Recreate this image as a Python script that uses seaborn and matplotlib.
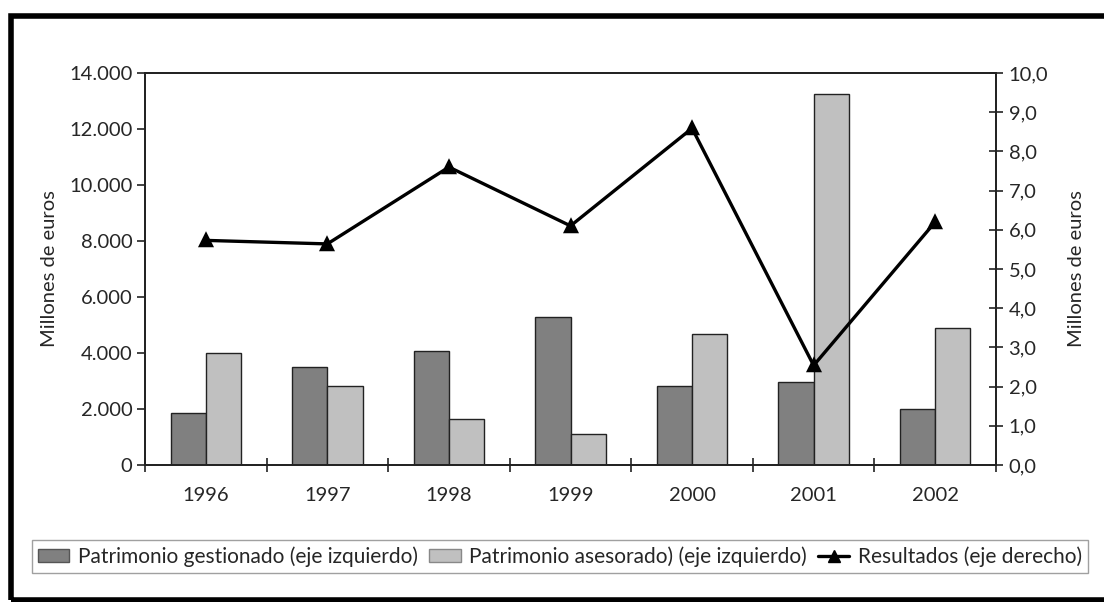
import numpy as np
import pandas as pd
import matplotlib
matplotlib.use("Agg")
import matplotlib.pyplot as plt
import matplotlib.ticker as mticker
from matplotlib.patches import Rectangle, Patch
from matplotlib.lines import Line2D
import seaborn as sns

# Data (millions of euros)
years = ["1996", "1997", "1998", "1999", "2000", "2001", "2002"]
gestionado = [1860, 3510, 4060, 5270, 2810, 2960, 1990]
asesorado = [3990, 2810, 1650, 1100, 4680, 13260, 4890]
resultados = [5.73, 5.64, 7.60, 6.10, 8.59, 2.54, 6.20]

serie_gest = "Patrimonio gestionado (eje izquierdo)"
serie_ases = "Patrimonio asesorado) (eje izquierdo)"
serie_res = "Resultados (eje derecho)"

sns.set_theme(style="white")
plt.rcParams["font.family"] = ["Lato", "DejaVu Sans"]

FS = 14.5
DARK = "#808080"
LIGHT = "#c0c0c0"
EDGE = "#222222"

df = pd.DataFrame({
    "year": years * 2,
    "value": gestionado + asesorado,
    "serie": [serie_gest] * len(years) + [serie_ases] * len(years),
})

fig = plt.figure(figsize=(11.04, 6.02), dpi=100)
ax = fig.add_axes([145 / 1104, 1 - 465 / 602, (996 - 145) / 1104, (465 - 73) / 602])

sns.barplot(data=df, x="year", y="value", hue="serie", order=years,
            hue_order=[serie_gest, serie_ases], palette=[DARK, LIGHT],
            width=0.58, edgecolor=EDGE, linewidth=1.0, saturation=1,
            legend=False, ax=ax)

ax.set_xlim(-0.5, len(years) - 0.5)
ax.set_ylim(0, 14000)
ax.set_yticks(np.arange(0, 14001, 2000))
ax.yaxis.set_major_formatter(mticker.FuncFormatter(
    lambda v, p: f"{int(v):,}".replace(",", ".")))
ax.set_xlabel("")
ax.set_ylabel("Millones de euros", fontsize=FS, labelpad=8)

# Category labels at centres, tick marks between categories
ax.set_xticks(range(len(years)))
ax.set_xticklabels(years, fontsize=FS)
ax.set_xticks(np.arange(-0.5, len(years), 1.0), minor=True)
ax.tick_params(axis="x", which="major", length=0, pad=16)
ax.tick_params(axis="x", which="minor", direction="inout", length=10,
               width=1.2, color=EDGE, bottom=True)
ax.tick_params(axis="y", which="major", direction="out", length=6,
               width=1.2, color=EDGE, labelsize=FS, pad=3, left=True)

for s in ax.spines.values():
    s.set_color(EDGE)
    s.set_linewidth(1.3)

# Results on the secondary axis
ax2 = ax.twinx()
sns.pointplot(x=years, y=resultados, order=years, color="black",
              markers="^", linestyles="-", linewidth=2.4, markersize=9,
              errorbar=None, ax=ax2)
ax2.set_xlim(-0.5, len(years) - 0.5)
ax2.set_ylim(0, 10)
ax2.set_yticks(np.arange(0, 10.01, 1.0))
ax2.yaxis.set_major_formatter(mticker.FuncFormatter(
    lambda v, p: f"{v:.1f}".replace(".", ",")))
ax2.tick_params(axis="y", which="major", direction="inout", length=10,
                width=1.2, color=EDGE, labelsize=FS, pad=4, right=True)
ax2.set_ylabel("Millones de euros", fontsize=FS, labelpad=14)
ax2.grid(False)
ax.grid(False)
for s in ax2.spines.values():
    s.set_color(EDGE)
    s.set_linewidth(1.3)

# Legend in a single row below the plot
handles = [
    Patch(facecolor=DARK, edgecolor="#555555", linewidth=1.0),
    Patch(facecolor=LIGHT, edgecolor="#888888", linewidth=1.0),
    Line2D([0], [0], color="black", linewidth=2.4, marker="^", markersize=8),
]
leg = fig.legend(handles, [serie_gest, serie_ases, serie_res],
                 loc="center", bbox_to_anchor=(560 / 1104, 1 - 556.5 / 602),
                 ncol=3, fontsize=15, frameon=True, fancybox=False,
                 borderpad=0.3, handlelength=1.5, handleheight=0.6,
                 handletextpad=0.4, columnspacing=0.55, borderaxespad=0)
leg.get_frame().set_edgecolor("#888888")
leg.get_frame().set_linewidth(1.0)

# Heavy outer frame
fig.patches.append(Rectangle((10.5 / 1104, 1 - 599.5 / 602), 1.2, (599.5 - 15.5) / 602,
                             transform=fig.transFigure, fill=False,
                             edgecolor="black", linewidth=4.0, clip_on=False))

fig.savefig("out.png", dpi=100)
